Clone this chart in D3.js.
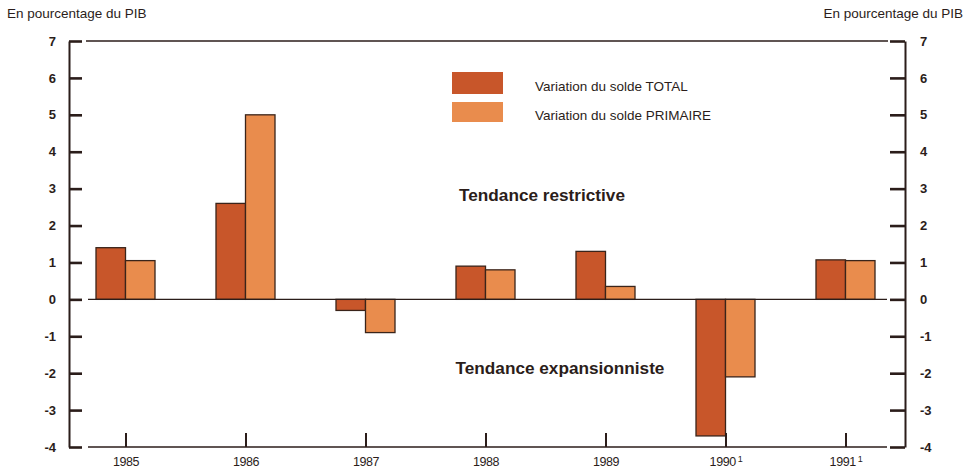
<!DOCTYPE html>
<html>
<head>
<meta charset="utf-8">
<script src="https://cdn.jsdelivr.net/npm/d3@7"></script>
<style>
  html, body { margin: 0; padding: 0; background: #fff; }
  svg { display: block; font-family: "Liberation Sans", Arial, Helvetica, sans-serif; }
</style>
</head>
<body>
<svg id="chart" width="969" height="475"></svg>
<script>
// Variation des soldes budgétaires, en pourcentage du PIB
const years = ["1985", "1986", "1987", "1988", "1989", "1990", "1991"];
const yearNotes = ["", "", "", "", "", "1", "1"];
const totalValues = [1.4, 2.6, -0.3, 0.9, 1.3, -3.7, 1.07];
const primaryValues = [1.05, 5.0, -0.9, 0.8, 0.35, -2.1, 1.05];
const seriesKeys = ["total", "primary"];
const seriesLabels = ["Variation du solde TOTAL", "Variation du solde PRIMAIRE"];
const yTicks = [-4, -3, -2, -1, 0, 1, 2, 3, 4, 5, 6, 7];
const unitLabel = "En pourcentage du PIB";
const zoneLabels = ["Tendance restrictive", "Tendance expansionniste"];

const colors = { total: "#c8562a", primary: "#e98c4d" };
const ink = "#2b1d1a";

const svg = d3.select("#chart");

const y = d3.scaleLinear().domain([-4, 7]).range([447, 41]);
const x = d3.scaleBand().domain(years).range([66, 906]).padding(0);
const xInner = d3.scaleBand().domain(seriesKeys).range([-30, 29]).padding(0);

const leftX = 69, rightX = 905;

// Frame lines: top and bottom
svg.append("line").attr("x1", 86).attr("x2", 888).attr("y1", y(7)).attr("y2", y(7))
  .attr("stroke", ink).attr("stroke-width", 1.4);
svg.append("line").attr("x1", 88).attr("x2", 887).attr("y1", y(-4)).attr("y2", y(-4))
  .attr("stroke", ink).attr("stroke-width", 1.4);

// Bars
const rows = years.map((yr, i) => ({ year: yr, total: totalValues[i], primary: primaryValues[i] }));
const groups = svg.append("g").selectAll("g").data(rows).join("g")
  .attr("transform", d => `translate(${x(d.year) + x.bandwidth() / 2},0)`);
groups.selectAll("rect")
  .data(d => seriesKeys.map(k => ({ key: k, value: d[k] })))
  .join("rect")
  .attr("x", d => xInner(d.key))
  .attr("width", xInner.bandwidth())
  .attr("y", d => y(Math.max(0, d.value)))
  .attr("height", d => Math.abs(y(d.value) - y(0)))
  .attr("fill", d => colors[d.key])
  .attr("stroke", "#3a241a")
  .attr("stroke-width", 1.3);

// Zero line over the bars
svg.append("line").attr("x1", 88).attr("x2", 887).attr("y1", y(0)).attr("y2", y(0))
  .attr("stroke", ink).attr("stroke-width", 1.3);

// Plain hyphen for negative values
const fmt = d => String(d);

// Left axis
const leftAxis = svg.append("g").attr("transform", `translate(${leftX},0)`)
  .call(d3.axisLeft(y).tickValues(yTicks).tickSizeInner(-13).tickSizeOuter(0).tickPadding(13).tickFormat(fmt));
// Right axis
const rightAxis = svg.append("g").attr("transform", `translate(${rightX},0)`)
  .call(d3.axisRight(y).tickValues(yTicks).tickSizeInner(-15).tickSizeOuter(0).tickPadding(15).tickFormat(fmt));

[leftAxis, rightAxis].forEach(a => {
  a.select(".domain").attr("stroke", ink).attr("stroke-width", 2);
  a.selectAll(".tick line").attr("stroke", ink).attr("stroke-width", 2.6);
  a.selectAll(".tick text").attr("fill", ink).attr("font-size", 13).attr("font-weight", "bold")
    .attr("font-family", "'Liberation Sans', Arial, sans-serif");
});

// Bottom axis with year ticks pointing up
const bottomAxis = svg.append("g").attr("transform", `translate(0,${y(-4)})`)
  .call(d3.axisBottom(x).tickSizeInner(-14).tickSizeOuter(0).tickPadding(10));
bottomAxis.select(".domain").remove();
bottomAxis.selectAll(".tick line").attr("stroke", ink).attr("stroke-width", 2);
bottomAxis.selectAll(".tick text").attr("fill", ink).attr("font-size", 12.5)
  .attr("letter-spacing", "-0.4px")
  .attr("font-family", "'Liberation Sans', Arial, sans-serif")
  .each(function (d, i) {
    const note = yearNotes[i];
    if (note) {
      d3.select(this).append("tspan").attr("dy", "-0.45em").attr("dx", "2").attr("font-size", 9).text(note);
    }
  });

// Unit labels
svg.append("text").attr("x", 7).attr("y", 18).attr("font-size", 13.5).attr("fill", ink).text(unitLabel);
svg.append("text").attr("x", 963).attr("y", 18).attr("text-anchor", "end").attr("font-size", 13.5).attr("fill", ink).text(unitLabel);

// Legend
const legend = svg.append("g");
const legendRows = [{ key: "total", y: 72, h: 22, ty: 91 }, { key: "primary", y: 102, h: 20, ty: 120 }];
legendRows.forEach((r, i) => {
  legend.append("rect").attr("x", 452).attr("y", r.y).attr("width", 51).attr("height", r.h)
    .attr("fill", colors[r.key]);
  legend.append("text").attr("x", 535).attr("y", r.ty).attr("font-size", 13.5).attr("fill", ink)
    .text(seriesLabels[i]);
});

// Zone annotations
svg.append("text").attr("x", 542).attr("y", 201).attr("text-anchor", "middle")
  .attr("font-size", 17.2).attr("font-weight", "bold").attr("fill", ink).text(zoneLabels[0]);
svg.append("text").attr("x", 560).attr("y", 374).attr("text-anchor", "middle")
  .attr("font-size", 17.2).attr("font-weight", "bold").attr("fill", ink).text(zoneLabels[1]);
</script>
</body>
</html>
